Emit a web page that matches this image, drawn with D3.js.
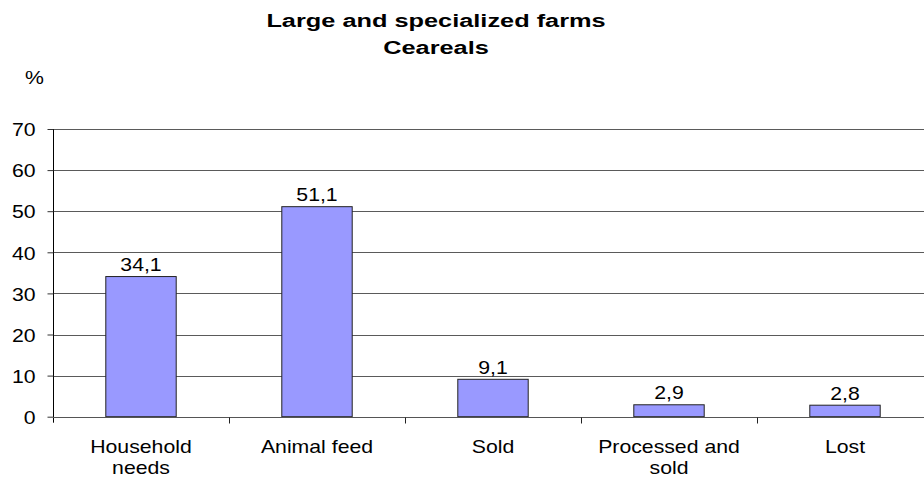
<!DOCTYPE html>
<html>
<head>
<meta charset="utf-8">
<script src="https://cdn.jsdelivr.net/npm/d3@7"></script>
<style>
  html, body { margin: 0; padding: 0; background: #fff; }
  svg { display: block; font-family: "Liberation Sans", Arial, sans-serif; }
</style>
</head>
<body>
<svg id="chart" width="924" height="483"></svg>
<script>
// Use of cereal output on large and specialized farms, % of total
const categories = [["Household", "needs"], ["Animal feed"], ["Sold"], ["Processed and", "sold"], ["Lost"]];
const values = [34.1, 51.1, 9.1, 2.9, 2.8];
const yTicks = [0, 10, 20, 30, 40, 50, 60, 70];
const titleLines = ["Large and specialized farms", "Ceareals"];
const unitLabel = "%";

const svg = d3.select("#chart");
const plotLeft = 53, plotRight = 933, plotTop = 129, plotBottom = 416.7;
const labelSize = 17.7, labelStretch = 1.2;   // text is drawn slightly widened
const titleSize = 18.5, titleStretch = 1.37;

const keys = categories.map((c, i) => i);
const x = d3.scaleBand().domain(keys).range([plotLeft, plotRight]).paddingInner(0.6).paddingOuter(0.3);
const xTickScale = d3.scaleBand().domain(keys).range([plotLeft, plotRight]);
const y = d3.scaleLinear().domain([0, 70]).range([plotBottom, plotTop]);

// Horizontal gridlines
svg.append("g")
  .selectAll("line")
  .data(yTicks.filter(t => t > 0))
  .join("line")
  .attr("x1", plotLeft).attr("x2", plotRight)
  .attr("y1", d => Math.round(y(d)) + 0.5).attr("y2", d => Math.round(y(d)) + 0.5)
  .attr("stroke", "#5a5a5a").attr("stroke-width", 1);

// Y axis
const yAxis = svg.append("g")
  .attr("transform", `translate(${plotLeft + 0.5},0)`)
  .call(d3.axisLeft(y).tickValues(yTicks).tickSize(6).tickPadding(9).tickFormat(d3.format("d")));
yAxis.select(".domain").attr("stroke", "#000").attr("d", `M0,${plotTop}V${plotBottom + 6}`);
yAxis.selectAll(".tick line").attr("stroke", "#333");
yAxis.selectAll(".tick text")
  .attr("font-size", labelSize).attr("fill", "#000")
  .attr("font-family", "Liberation Sans, Arial, sans-serif")
  .attr("dy", "0.38em")
  .attr("transform", `scale(${labelStretch},1)`);

// Bars
svg.append("g")
  .selectAll("rect")
  .data(values)
  .join("rect")
  .attr("x", (d, i) => x(i))
  .attr("y", d => y(d))
  .attr("width", x.bandwidth())
  .attr("height", d => y(0) - y(d))
  .attr("fill", "#9999ff")
  .attr("stroke", "#222")
  .attr("stroke-width", 1);

// Value labels
svg.append("g")
  .selectAll("text")
  .data(values)
  .join("text")
  .attr("transform", (d, i) => `translate(${x(i) + x.bandwidth() / 2},${y(d) - 5.5}) scale(${labelStretch},1)`)
  .attr("text-anchor", "middle")
  .attr("font-size", labelSize)
  .text(d => d3.format(".1f")(d).replace(".", ","));

// X axis baseline with category separators
const xAxis = svg.append("g").attr("transform", `translate(0,${Math.round(plotBottom) + 0.5})`);
xAxis.append("line").attr("x1", plotLeft).attr("x2", plotRight).attr("stroke", "#555");
xAxis.selectAll("line.sep")
  .data(keys.slice(1))
  .join("line")
  .attr("class", "sep")
  .attr("x1", d => Math.round(xTickScale(d)) + 0.5).attr("x2", d => Math.round(xTickScale(d)) + 0.5)
  .attr("y1", 0).attr("y2", 6)
  .attr("stroke", "#222");

// Category labels
const catText = svg.append("g")
  .selectAll("text")
  .data(categories)
  .join("text")
  .attr("transform", (d, i) => `translate(${x(i) + x.bandwidth() / 2},452.5) scale(${labelStretch},1)`)
  .attr("text-anchor", "middle")
  .attr("font-size", labelSize);
catText.selectAll("tspan")
  .data(d => d)
  .join("tspan")
  .attr("x", 0)
  .attr("dy", (d, i) => i === 0 ? 0 : 21.5)
  .text(d => d);

// Title
svg.append("g")
  .selectAll("text")
  .data(titleLines)
  .join("text")
  .attr("transform", (d, i) => `translate(436,${27.3 + i * 26.5}) scale(${titleStretch},1)`)
  .attr("text-anchor", "middle")
  .attr("font-size", titleSize)
  .attr("font-weight", "bold")
  .text(d => d);

// Unit label
svg.append("text")
  .attr("transform", `translate(25,84) scale(${labelStretch},1)`)
  .attr("font-size", labelSize)
  .text(unitLabel);
</script>
</body>
</html>
